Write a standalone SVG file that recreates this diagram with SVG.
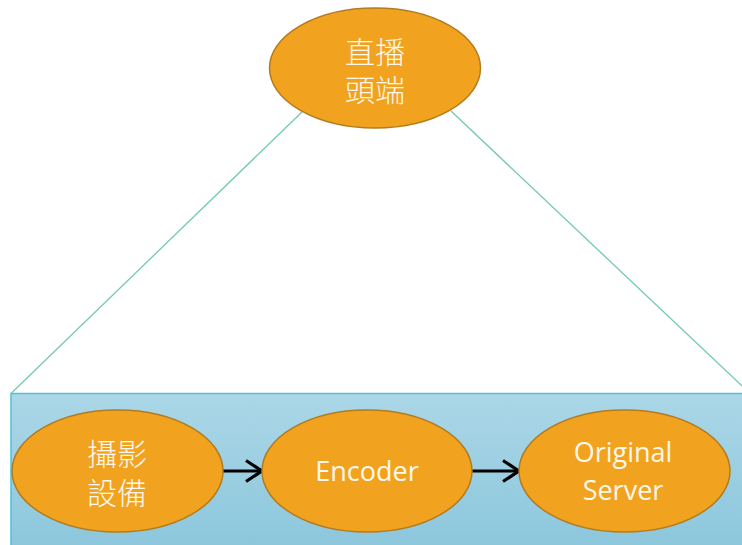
<svg xmlns="http://www.w3.org/2000/svg" width="742" height="545" viewBox="0 0 742 545">
  <defs>
    <linearGradient id="bandFill" x1="0" y1="0" x2="0" y2="1">
      <stop offset="0" stop-color="#abd7e7"/>
      <stop offset="1" stop-color="#8bc6dc"/>
    </linearGradient>
    <marker id="chevron" viewBox="0 0 20 24" refX="18" refY="12" markerWidth="20" markerHeight="24" markerUnits="userSpaceOnUse" orient="auto">
      <polyline points="2,1.5 18,12 2,22.5" fill="none" stroke="#000" stroke-width="3.2" stroke-linejoin="miter"/>
    </marker>
    <style>
      .node { fill: #f1a31f; stroke: #b27b1f; stroke-width: 1.5; }
      .cjk { font-family: "Liberation Sans", "Noto Sans CJK TC", "Noto Sans CJK SC", sans-serif; font-size: 30px; font-weight: 300; fill: #fdf7ec; text-anchor: middle; }
      .lat { font-family: "Open Sans", "Liberation Sans", sans-serif; font-size: 27px; fill: #fdf7ec; text-anchor: middle; }
      .guide { stroke: #72c9b3; stroke-width: 1.3; fill: none; }
      .flow { stroke: #000; stroke-width: 3.2; fill: none; marker-end: url(#chevron); }
    </style>
  </defs>

  <rect width="742" height="545" fill="#ffffff"/>

  <!-- background band holding the capture chain -->
  <rect id="band" x="11" y="393.5" width="745" height="160" fill="url(#bandFill)" stroke="#4fc1d8" stroke-width="1.5"/>

  <g id="connectors">
    <line class="guide" x1="302" y1="112" x2="11" y2="393.5"/>
    <line class="guide" x1="451" y1="111" x2="750" y2="393.5"/>
    <line class="flow" x1="223" y1="471" x2="262" y2="471"/>
    <line class="flow" x1="472" y1="471" x2="519" y2="471"/>
  </g>

  <g id="head-end">
    <ellipse class="node" cx="375" cy="68" rx="105.5" ry="60"/>
    <text class="cjk"><tspan x="375" y="63">直播</tspan><tspan x="375" y="101">頭端</tspan></text>
  </g>

  <g id="camera">
    <ellipse class="node" cx="117.5" cy="471" rx="105.5" ry="61"/>
    <text class="cjk"><tspan x="117" y="465">攝影</tspan><tspan x="117" y="504">設備</tspan></text>
  </g>

  <g id="encoder">
    <ellipse class="node" cx="367" cy="471" rx="105" ry="61"/>
    <text class="lat" x="367" y="481">Encoder</text>
  </g>

  <g id="origin-server">
    <ellipse class="node" cx="624.5" cy="471" rx="105.5" ry="61"/>
    <text class="lat"><tspan x="623" y="462">Original</tspan><tspan x="623" y="500">Server</tspan></text>
  </g>
</svg>
